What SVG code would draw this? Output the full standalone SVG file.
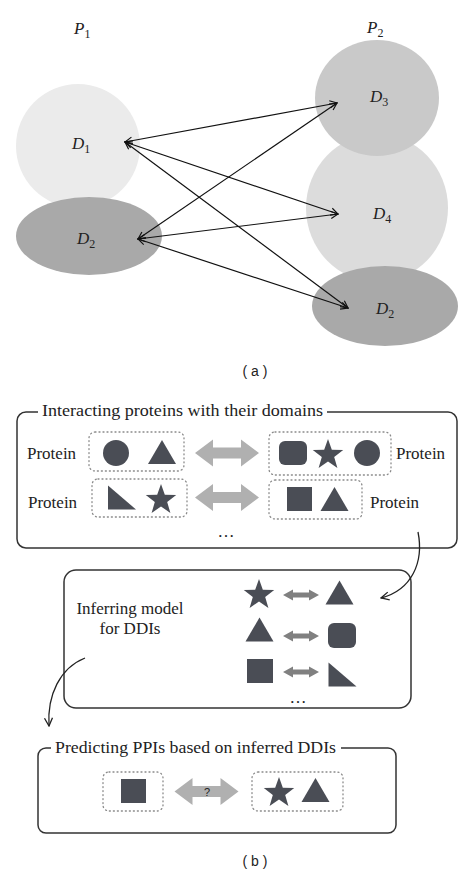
<svg xmlns="http://www.w3.org/2000/svg" width="474" height="873" viewBox="0 0 474 873">
<style>
.lbl{font-family:"Liberation Serif","Times New Roman",serif;font-style:italic;font-size:17px;fill:#222}
.sub{font-size:12px;font-style:normal}
.cap{font-family:"Liberation Sans",Arial,sans-serif;font-size:14px;fill:#222}
.ser{font-family:"Liberation Serif","Times New Roman",serif;font-size:17px;fill:#222}
.frame{fill:none;stroke:#333;stroke-width:1.5}
.dot{fill:none;stroke:#8a8a8a;stroke-width:1.3;stroke-dasharray:1 3;stroke-linecap:round}
.shp{fill:#4a4d55}
.big{fill:#b0b0b0}
.small{fill:#808080}
.con{stroke:#111;stroke-width:1.2;fill:none}
.curve{stroke:#222;stroke-width:1.3;fill:none}
</style>
<defs>
<marker id="ah" viewBox="0 0 10 10" refX="9" refY="5" markerWidth="9" markerHeight="9" markerUnits="userSpaceOnUse" orient="auto-start-reverse">
<path d="M1,1 L9,5 L1,9" fill="none" stroke="#111" stroke-width="1.3"/>
</marker>
<marker id="ah2" viewBox="0 0 10 10" refX="9" refY="5" markerWidth="10" markerHeight="10" markerUnits="userSpaceOnUse" orient="auto">
<path d="M1,1 L9,5 L1,9" fill="none" stroke="#222" stroke-width="1.3"/>
</marker>
<path id="star" d="M0,-16 L3.82,-5.26 L15.22,-4.94 L6.18,2.01 L9.4,12.94 L0,6.5 L-9.4,12.94 L-6.18,2.01 L-15.22,-4.94 L-3.82,-5.26 Z"/>
<path id="tri" d="M-14,12 L0,-12 L14,12 Z"/>
<path id="rtri" d="M-14,-12 L14,12 L-14,12 Z"/>
<path id="bigarr" d="M-32,0 L-14,-13.5 L-14,-5.5 L14,-5.5 L14,-13.5 L32,0 L14,13.5 L14,5.5 L-14,5.5 L-14,13.5 Z"/>
<path id="smarr" d="M-18,0 L-8,-5.5 L-8,-2.5 L8,-2.5 L8,-5.5 L18,0 L8,5.5 L8,2.5 L-8,2.5 L-8,5.5 Z"/>
</defs>

<!-- Part (a) -->
<g id="P1"><text class="lbl" x="74" y="34">P<tspan class="sub" dy="4">1</tspan></text></g>
<g id="P2"><text class="lbl" x="367" y="33">P<tspan class="sub" dy="4">2</tspan></text></g>

<g id="D1"><circle cx="78" cy="146" r="62" fill="#ebebeb"/><text class="lbl" x="72" y="149">D<tspan class="sub" dy="4">1</tspan></text></g>
<g id="D2left"><ellipse cx="89" cy="236" rx="73" ry="39" fill="#a9a9a9"/><text class="lbl" x="77" y="244">D<tspan class="sub" dy="4">2</tspan></text></g>
<g id="D4"><ellipse cx="377" cy="208" rx="71" ry="74" fill="#dcdcdc"/><text class="lbl" x="373" y="219">D<tspan class="sub" dy="4">4</tspan></text></g>
<g id="D3"><ellipse cx="377" cy="98" rx="62" ry="58" fill="#c9c9c9"/><text class="lbl" x="370" y="102">D<tspan class="sub" dy="4">3</tspan></text></g>
<g id="D2right"><ellipse cx="385" cy="306" rx="73" ry="40" fill="#a9a9a9"/><text class="lbl" x="376" y="314">D<tspan class="sub" dy="4">2</tspan></text></g>

<g id="connectors-a">
<line class="con" x1="125" y1="142" x2="337" y2="103" marker-start="url(#ah)" marker-end="url(#ah)"/>
<line class="con" x1="125" y1="142" x2="338" y2="214" marker-start="url(#ah)" marker-end="url(#ah)"/>
<line class="con" x1="125" y1="142" x2="348" y2="308" marker-start="url(#ah)" marker-end="url(#ah)"/>
<line class="con" x1="138" y1="239" x2="337" y2="103" marker-start="url(#ah)" marker-end="url(#ah)"/>
<line class="con" x1="138" y1="239" x2="338" y2="214" marker-start="url(#ah)" marker-end="url(#ah)"/>
<line class="con" x1="138" y1="239" x2="348" y2="308" marker-start="url(#ah)" marker-end="url(#ah)"/>
</g>

<text class="cap" x="255" y="376" text-anchor="middle">( a )</text>

<!-- Part (b) -->
<g id="box1">
<rect class="frame" x="17" y="412" width="440" height="136" rx="9"/>
<rect x="38" y="403" width="289" height="16" fill="#fff"/>
<text class="ser" x="42" y="416" font-size="16" textLength="281" lengthAdjust="spacingAndGlyphs">Interacting proteins with their domains</text>
<text class="ser" x="27" y="459">Protein</text>
<text class="ser" x="396" y="459">Protein</text>
<text class="ser" x="28" y="508">Protein</text>
<text class="ser" x="370" y="508">Protein</text>
<rect class="dot" x="89" y="432" width="95" height="39" rx="6"/>
<rect class="dot" x="269" y="432" width="122" height="43" rx="6"/>
<rect class="dot" x="92" y="479" width="95" height="38" rx="6"/>
<rect class="dot" x="269" y="480" width="93" height="39" rx="6"/>
<circle class="shp" cx="116" cy="453" r="13"/>
<use href="#tri" class="shp" transform="translate(162,452)"/>
<use href="#bigarr" class="big" transform="translate(227,453)"/>
<rect class="shp" x="279" y="441" width="28" height="24" rx="6"/>
<use href="#star" class="shp" transform="translate(328,455)"/>
<circle class="shp" cx="367" cy="453" r="13"/>
<use href="#rtri" class="shp" transform="translate(122,497.5)"/>
<use href="#star" class="shp" transform="translate(161,500)"/>
<use href="#bigarr" class="big" transform="translate(227,497.5)"/>
<rect class="shp" x="287" y="487" width="25" height="24"/>
<use href="#tri" class="shp" transform="translate(334.5,499)"/>
<text class="ser" x="226" y="537" text-anchor="middle" font-size="15">…</text>
</g>

<g id="box2">
<rect class="frame" x="64" y="570" width="347" height="138" rx="12"/>
<text class="ser" x="130" y="614" text-anchor="middle">Inferring model</text>
<text class="ser" x="130" y="634" text-anchor="middle">for DDIs</text>
<use href="#star" class="shp" transform="translate(259,595)"/>
<use href="#smarr" class="small" transform="translate(301,595)"/>
<use href="#tri" class="shp" transform="translate(339.5,592.5)"/>
<use href="#tri" class="shp" transform="translate(259.5,629.5)"/>
<use href="#smarr" class="small" transform="translate(301,636)"/>
<rect class="shp" x="328" y="623" width="28" height="25" rx="6"/>
<rect class="shp" x="247" y="659" width="26" height="24"/>
<use href="#smarr" class="small" transform="translate(301,672)"/>
<use href="#rtri" class="shp" transform="translate(342.5,674.5)" />
<text class="ser" x="298" y="703" text-anchor="middle" font-size="15">…</text>
</g>

<g id="box3">
<rect class="frame" x="38" y="748" width="358" height="85" rx="8"/>
<rect x="51" y="740" width="290" height="16" fill="#fff"/>
<text class="ser" x="55" y="753" font-size="16" textLength="281" lengthAdjust="spacingAndGlyphs">Predicting PPIs based on inferred DDIs</text>
<rect class="dot" x="103" y="772" width="60" height="39" rx="6"/>
<rect class="shp" x="121" y="779" width="25" height="24"/>
<use href="#bigarr" class="big" transform="translate(206.5,791.5)"/>
<text x="207" y="796" text-anchor="middle" font-family="Liberation Sans,Arial,sans-serif" font-size="11" fill="#222">?</text>
<rect class="dot" x="252" y="772" width="91" height="39" rx="6"/>
<use href="#star" class="shp" transform="translate(279,793)"/>
<use href="#tri" class="shp" transform="translate(315.5,790)"/>
</g>

<g id="connectors-b">
<path class="curve" d="M418,532 C424,562 412,590 381,598" marker-end="url(#ah2)"/>
<path class="curve" d="M85,658 C60,668 47,695 49,726" marker-end="url(#ah2)"/>
</g>

<text class="cap" x="255" y="866" text-anchor="middle">( b )</text>
</svg>
